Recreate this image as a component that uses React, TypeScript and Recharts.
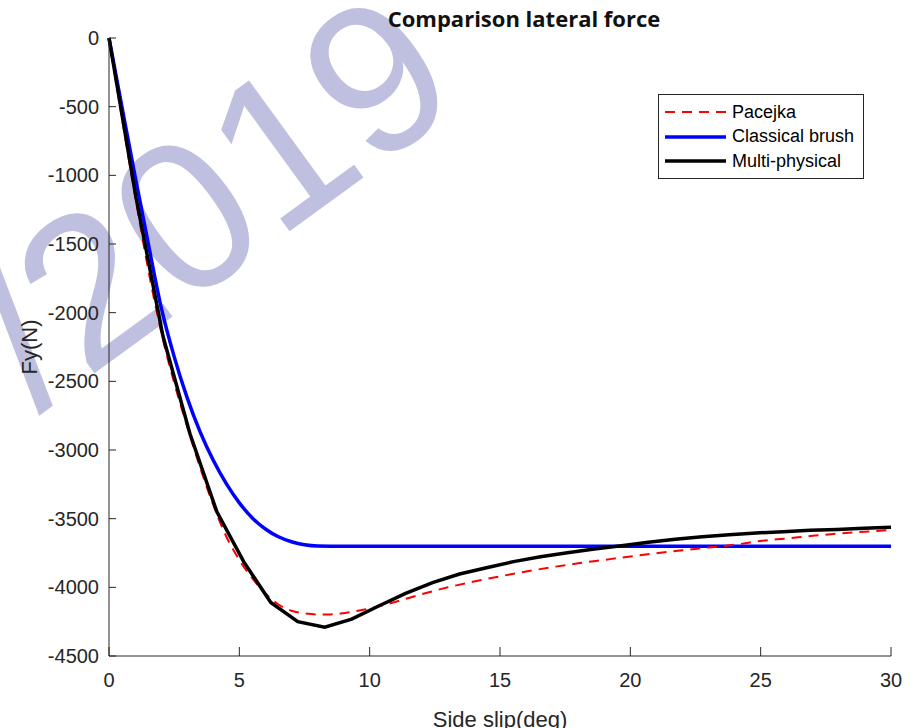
import { LineChart, Line, XAxis, YAxis, Legend } from "recharts";

// slip angle (deg) / lateral force Fy (N)
const slipPacejka = [
  0, 0.5, 1, 1.5, 2, 2.5, 3, 3.5, 4, 4.5, 5, 5.5, 6, 6.5, 7, 7.5, 8, 8.5, 9, 9.5,
  10, 11, 12, 13, 14, 15, 16, 17, 18, 19, 20, 21, 22, 23, 24, 25, 26, 27, 28, 29, 30,
];
const fyPacejka = [
  0, -585, -1150, -1680, -2140, -2510, -2830, -3130, -3400, -3630, -3800, -3935,
  -4045, -4125, -4170, -4190, -4198, -4197, -4188, -4173, -4155, -4105, -4050,
  -4000, -3958, -3920, -3885, -3853, -3825, -3800, -3775, -3752, -3730, -3710,
  -3690, -3662, -3644, -3625, -3608, -3595, -3583,
];

const slipBrush = [
  0, 0.5, 1, 1.5, 2, 2.5, 3, 3.5, 4, 4.5, 5, 5.5, 6, 6.5, 7, 7.5, 8, 8.5, 30,
];
const fyBrush = [
  0, -505, -1005, -1490, -1960, -2320, -2620, -2870, -3075, -3245, -3385, -3495,
  -3575, -3632, -3668, -3690, -3699, -3700, -3700,
];

const slipMulti = [
  0, 1.034, 2.069, 3.103, 4.138, 5.172, 6.207, 7.241, 8.276, 9.31, 10.345,
  11.379, 12.414, 13.448, 14.483, 15.517, 16.552, 17.586, 18.621, 19.655, 20.69,
  21.724, 22.759, 23.793, 24.828, 25.862, 26.897, 27.931, 28.966, 30,
];
const fyMulti = [
  0, -1160, -2170, -2880, -3450, -3815, -4110, -4250, -4290, -4232, -4136, -4044,
  -3966, -3903, -3857, -3813, -3777, -3748, -3721, -3697, -3672, -3650, -3631,
  -3617, -3604, -3595, -3585, -3578, -3570, -3563,
];

const xTicks = [0, 5, 10, 15, 20, 25, 30];
const yTicks = [0, -500, -1000, -1500, -2000, -2500, -3000, -3500, -4000, -4500];

const pacejkaData = slipPacejka.map((x, i) => ({ x, y: fyPacejka[i] }));
const brushData = slipBrush.map((x, i) => ({ x, y: fyBrush[i] }));
const multiData = slipMulti.map((x, i) => ({ x, y: fyMulti[i] }));

const AXIS = "#262626";
const FONT = "'Liberation Sans', Arial, sans-serif";

const legendItems = [
  { name: "Pacejka", color: "#ff0000", width: 2, dash: "10 7" },
  { name: "Classical brush", color: "#0000ff", width: 3.5, dash: undefined },
  { name: "Multi-physical", color: "#000000", width: 3.5, dash: undefined },
];

function LegendBox() {
  return (
    <div
      style={{
        background: "#fff",
        border: `1px solid ${AXIS}`,
        width: 206,
        height: 85,
        boxSizing: "border-box",
        paddingTop: 5,
        fontFamily: FONT,
        fontSize: 18,
        color: "#000",
        lineHeight: "normal",
      }}
    >
      {legendItems.map((it) => (
        <div key={it.name} style={{ display: "flex", alignItems: "center", height: 24.5 }}>
          <svg width={67} height={10} style={{ marginLeft: 6 }}>
            <line
              x1={0}
              x2={61}
              y1={5}
              y2={5}
              stroke={it.color}
              strokeWidth={it.width}
              strokeDasharray={it.dash}
            />
          </svg>
          <span>{it.name}</span>
        </div>
      ))}
    </div>
  );
}

export default function App() {
  return (
    <div
      style={{
        position: "absolute",
        left: 0,
        top: 0,
        width: 912,
        height: 728,
        background: "#fff",
        overflow: "hidden",
      }}
    >
      <svg width={912} height={728} style={{ position: "absolute", left: 0, top: 0 }}>
        <text
          transform="translate(38,414) rotate(-36)"
          fontFamily={FONT}
          fontSize={212}
          fill="#bfc0df"
        >
          /2019
        </text>
        <text
          x={524}
          y={27}
          textAnchor="middle"
          fontFamily="'Open Sans', sans-serif"
          fontWeight={700}
          fontSize={22}
          fill="#111"
        >
          Comparison lateral force
        </text>
      </svg>
      <div style={{ position: "absolute", left: 0, top: 0 }}>
        <LineChart width={912} height={728} margin={{ top: 38, right: 21, bottom: 0, left: 0 }}>
          <XAxis
            type="number"
            dataKey="x"
            domain={[0, 30]}
            ticks={xTicks}
            height={72}
            stroke={AXIS}
            tickSize={-9}
            tickMargin={26}
            tick={{ fontSize: 20, fill: AXIS, fontFamily: FONT }}
            label={{
              value: "Side slip(deg)",
              position: "insideBottom",
              offset: 1,
              fontSize: 22,
              fill: AXIS,
              fontFamily: FONT,
            }}
          />
          <YAxis
            type="number"
            domain={[-4500, 0]}
            ticks={yTicks}
            width={109}
            stroke={AXIS}
            tickSize={-7}
            tickMargin={17}
            tick={{ fontSize: 20, fill: AXIS, fontFamily: FONT }}
            label={{
              content: () => (
                <text
                  transform="translate(37,347) rotate(-90)"
                  textAnchor="middle"
                  fontSize={22}
                  fill={AXIS}
                  fontFamily={FONT}
                >
                  Fy(N)
                </text>
              ),
            }}
          />
          <Legend
            layout="horizontal"
            verticalAlign="middle"
            align="center"
            wrapperStyle={{ left: 658, top: 94, width: 206, height: 85 }}
            content={() => <LegendBox />}
          />
          <Line
            data={brushData}
            dataKey="y"
            type="monotone"
            stroke="#0000ff"
            strokeWidth={3.5}
            dot={false}
            activeDot={false}
            isAnimationActive={false}
            name="Classical brush"
          />
          <Line
            data={pacejkaData}
            dataKey="y"
            type="monotone"
            stroke="#ff0000"
            strokeWidth={2}
            strokeDasharray="10 7"
            dot={false}
            activeDot={false}
            isAnimationActive={false}
            name="Pacejka"
          />
          <Line
            data={multiData}
            dataKey="y"
            type="linear"
            stroke="#000000"
            strokeWidth={3.5}
            dot={false}
            activeDot={false}
            isAnimationActive={false}
            name="Multi-physical"
          />
        </LineChart>
      </div>
    </div>
  );
}
